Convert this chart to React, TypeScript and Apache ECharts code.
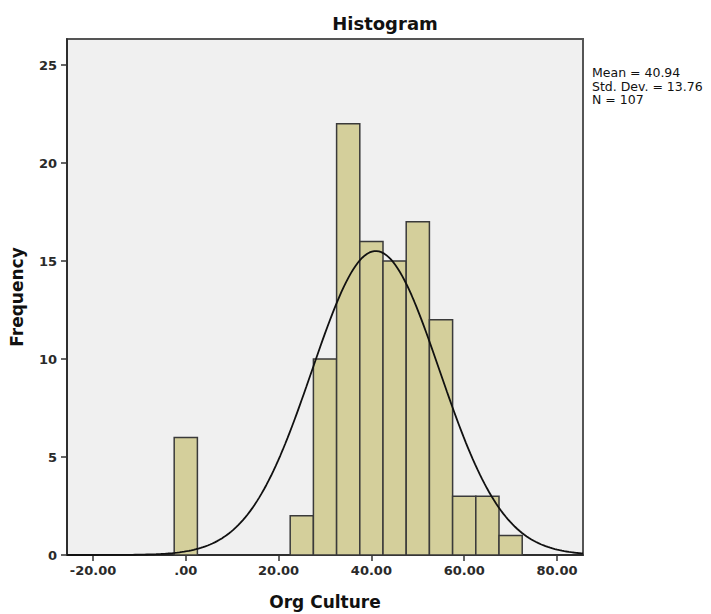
import React, { useEffect, useRef } from "react";
import * as echarts from "echarts";

// Histogram bins (lower edge, upper edge) and frequencies
const binStarts = [-2.5, 22.5, 27.5, 32.5, 37.5, 42.5, 47.5, 52.5, 57.5, 62.5, 67.5];
const binEnds = [2.5, 27.5, 32.5, 37.5, 42.5, 47.5, 52.5, 57.5, 62.5, 67.5, 72.5];
const frequencies = [6, 2, 10, 22, 16, 15, 17, 12, 3, 3, 1];

// Summary statistics shown on the chart
const MEAN = 40.94;
const STD_DEV = 13.76;
const N = 107;
const BIN_WIDTH = 5;

// Axis ranges and ticks
const X_MIN = -25.6;
const X_MAX = 85.6;
const Y_MIN = 0;
const Y_MAX = 26.33;
const xTicks = [-20, 0, 20, 40, 60, 80];
const yTicks = [0, 5, 10, 15, 20, 25];

const statLines = [
  "Mean = 40.94",
  "Std. Dev. = 13.76",
  "N = 107",
];

const FONT = "'DejaVu Sans', 'Liberation Sans', sans-serif";

function normalCurve(): number[][] {
  const pts: number[][] = [];
  const scale = (N * BIN_WIDTH) / (STD_DEV * Math.sqrt(2 * Math.PI));
  const steps = 220;
  for (let i = 0; i <= steps; i++) {
    const x = X_MIN + ((X_MAX - X_MIN) * i) / steps;
    const z = (x - MEAN) / STD_DEV;
    pts.push([x, scale * Math.exp(-0.5 * z * z)]);
  }
  return pts;
}

export default function App() {
  const ref = useRef<HTMLDivElement>(null);

  useEffect(() => {
    document.body.style.margin = "0";
    if (!ref.current) return;
    const chart = echarts.init(ref.current, undefined, { renderer: "svg" });
    const barData = binStarts.map((s, i) => [s, binEnds[i], frequencies[i]]);

    chart.setOption({
      animation: false,
      backgroundColor: "#ffffff",
      grid: {
        left: 67,
        right: 128,
        top: 39,
        bottom: 59,
        containLabel: false,
        outerBoundsMode: "none",
        show: true,
        backgroundColor: "#f0f0f0",
        borderColor: "#555555",
        borderWidth: 2,
      },
      xAxis: {
        type: "value",
        min: X_MIN,
        max: X_MAX,
        name: "Org Culture",
        nameLocation: "middle",
        nameGap: 38,
        nameTextStyle: { fontFamily: FONT, fontSize: 17, fontWeight: "bold", color: "#111" },
        splitLine: { show: false },
        axisLine: { show: true, onZero: false, lineStyle: { color: "#222", width: 1.5 } },
        axisTick: { show: true, length: 6, customValues: xTicks, lineStyle: { color: "#333", width: 1.5 } },
        axisLabel: {
          customValues: xTicks,
          margin: 9,
          fontFamily: FONT,
          fontSize: 13,
          fontWeight: "bold",
          color: "#2a2a2a",
          formatter: (v: number) => {
            const s = v.toFixed(2);
            return v === 0 ? ".00" : s;
          },
        },
      },
      yAxis: {
        type: "value",
        min: Y_MIN,
        max: Y_MAX,
        name: "Frequency",
        nameLocation: "middle",
        nameGap: 42,
        nameRotate: 90,
        nameTextStyle: { fontFamily: FONT, fontSize: 17, fontWeight: "bold", color: "#111" },
        splitLine: { show: false },
        axisLine: { show: true, onZero: false, lineStyle: { color: "#222", width: 1.5 } },
        axisTick: { show: true, length: 6, customValues: yTicks, lineStyle: { color: "#333", width: 1.5 } },
        axisLabel: {
          customValues: yTicks,
          margin: 10,
          fontFamily: FONT,
          fontSize: 13,
          fontWeight: "bold",
          color: "#2a2a2a",
        },
      },
      graphic: [
        {
          type: "text",
          x: 385,
          y: 23,
          style: {
            text: "Histogram",
            fontFamily: FONT,
            fontSize: 18,
            fontWeight: "bold",
            fill: "#111",
            align: "center",
            verticalAlign: "middle",
          },
        },
        {
          type: "text",
          x: 592,
          y: 66,
          style: {
            text: statLines.join("\n"),
            fontFamily: FONT,
            fontSize: 12.5,
            lineHeight: 13.5,
            fill: "#111",
            align: "left",
            verticalAlign: "top",
          },
        },
      ],
      series: [
        {
          type: "custom",
          data: barData,
          encode: { x: [0, 1], y: 2 },
          renderItem: (params: any, api: any) => {
            const p0 = api.coord([api.value(0), api.value(2)]);
            const p1 = api.coord([api.value(1), 0]);
            return {
              type: "rect",
              shape: { x: p0[0], y: p0[1], width: p1[0] - p0[0], height: p1[1] - p0[1] },
              style: { fill: "#d4cf9b", stroke: "#3a3a3a", lineWidth: 1.5 },
            };
          },
          z: 2,
        },
        {
          type: "line",
          data: normalCurve(),
          showSymbol: false,
          symbol: "none",
          lineStyle: { color: "#111", width: 1.8 },
          z: 3,
        },
      ],
    });

    return () => chart.dispose();
  }, []);

  return <div ref={ref} style={{ width: 711, height: 614 }} />;
}
